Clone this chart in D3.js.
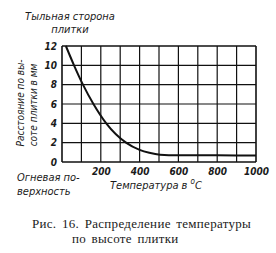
<!DOCTYPE html>
<html><head><meta charset="utf-8">
<script src="https://cdn.jsdelivr.net/npm/d3@7"></script>
<style>
html,body{margin:0;padding:0;background:#fff;}
svg{display:block;}
.lab{font-family:"DejaVu Sans Condensed","DejaVu Sans",sans-serif;font-style:italic;fill:#1a1a1a;}
.cap{font-family:"Liberation Serif","DejaVu Serif",serif;fill:#1a1a1a;}
</style></head>
<body>
<script>
// data
const temps = [20, 62, 108, 162, 228, 330, 400, 450, 505, 600, 800, 1000];
const dist  = [12, 10, 8, 6, 4, 2, 1.25, 0.95, 0.76, 0.7, 0.69, 0.68];
const xTicks = [0,100,200,300,400,500,600,700,800,900,1000];
const xTickLabels = ["", "", "200", "", "400", "", "600", "", "800", "", "1000"];
const yTicks = [0,2,4,6,8,10,12];
const yTickLabels = ["0","2","4","6","8","10","12"];

const W = 276, H = 253;
const svg = d3.select("body").append("svg").attr("width", W).attr("height", H);
const x = d3.scaleLinear().domain([0,1000]).range([62,256]);
const y = d3.scaleLinear().domain([0,12]).range([162,46]);

// grid
const g = svg.append("g");
g.selectAll("line.v").data(xTicks).join("line")
  .attr("x1", d=>x(d)).attr("x2", d=>x(d)).attr("y1", y(0)).attr("y2", y(12))
  .attr("stroke","#111").attr("stroke-width", d=> (d===0||d===1000)?1.6:1.2);
g.selectAll("line.h").data(yTicks).join("line")
  .attr("x1", x(0)).attr("x2", x(1000)).attr("y1", d=>y(d)).attr("y2", d=>y(d))
  .attr("stroke","#111").attr("stroke-width", d=> (d===0||d===12)?1.6:1.2);

// axes labels via d3 axes
const ax = svg.append("g").attr("transform",`translate(0,${y(0)})`)
  .call(d3.axisBottom(x).tickValues(xTicks).tickSize(0).tickPadding(6)
    .tickFormat((d,i)=>xTickLabels[i]));
ax.select(".domain").remove();
ax.selectAll("text").attr("class","lab").attr("font-size",10).attr("font-weight","bold").attr("fill","#1a1a1a");

const ay = svg.append("g").attr("transform",`translate(${x(0)},0)`)
  .call(d3.axisLeft(y).tickValues(yTicks).tickSize(0).tickPadding(5)
    .tickFormat((d,i)=>yTickLabels[i]));
ay.select(".domain").remove();
ay.selectAll("text").attr("class","lab").attr("font-size",10).attr("font-weight","bold").attr("fill","#1a1a1a");

// curve
const pts = temps.map((t,i)=>[t, dist[i]]);
svg.append("path").datum(pts)
  .attr("d", d3.line().x(d=>x(d[0])).y(d=>y(d[1])).curve(d3.curveMonotoneX))
  .attr("fill","none").attr("stroke","#111").attr("stroke-width",2);

// texts
svg.append("text").attr("class","lab").attr("x",70).attr("y",20).attr("text-anchor","middle").attr("font-size",11).text("Тыльная сторона");
svg.append("text").attr("class","lab").attr("x",70).attr("y",33).attr("text-anchor","middle").attr("font-size",11).text("плитки");

svg.append("text").attr("class","lab").attr("transform","translate(24,103) rotate(-90)").attr("text-anchor","middle").attr("font-size",10).text("Расстояние по вы-");
svg.append("text").attr("class","lab").attr("transform","translate(37,105) rotate(-90)").attr("text-anchor","middle").attr("font-size",10).text("соте плитки в мм");

svg.append("text").attr("class","lab").attr("x",17).attr("y",181).attr("font-size",11).text("Огневая по-");
svg.append("text").attr("class","lab").attr("x",17).attr("y",195).attr("font-size",11).text("верхность");
const tt = svg.append("text").attr("class","lab").attr("x",110).attr("y",189).attr("font-size",11);
tt.append("tspan").text("Температура в ");
tt.append("tspan").attr("dy",-5).attr("font-size",8).text("о");
tt.append("tspan").attr("dy",5).text("С");

svg.append("text").attr("class","cap").attr("x",32).attr("y",228).attr("font-size",13).attr("letter-spacing",0.3).attr("word-spacing",2).text("Рис. 16. Распределение температуры");
svg.append("text").attr("class","cap").attr("x",72).attr("y",243).attr("font-size",13).attr("letter-spacing",0.3).attr("word-spacing",2).text("по высоте плитки");
</script>
</body></html>
